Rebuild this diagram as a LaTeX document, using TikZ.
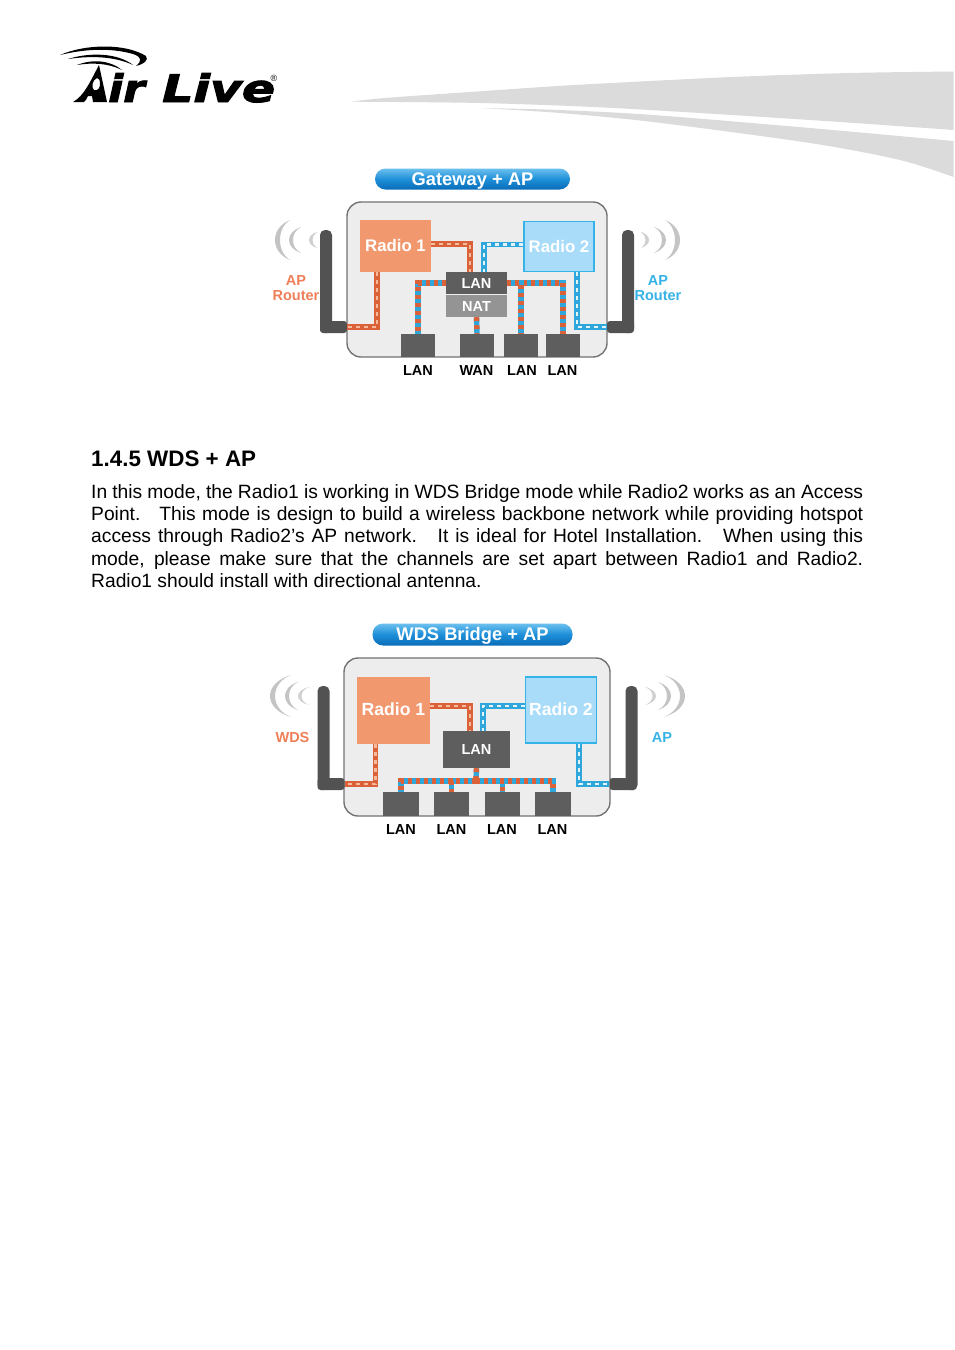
\documentclass[tikz,border=0pt]{standalone}
\usepackage{fontspec}
\setmainfont{Liberation Sans}
\newfontfamily\logofont[BoldItalicFeatures={FakeBold=2.5}]{DejaVu Sans}
\definecolor{cr}{HTML}{DB6238}
\definecolor{crt}{HTML}{F4BC9C}
\definecolor{cb}{HTML}{2FA6DC}
\definecolor{cbw}{HTML}{E4F4FB}
\definecolor{labr}{HTML}{EE7F58}
\definecolor{labb}{HTML}{35B2E6}
\definecolor{darkg}{HTML}{5E5E5E}
\definecolor{wave}{HTML}{C4C4C4}
\definecolor{pilltop}{HTML}{6CC0EE}
\definecolor{pillmid}{HTML}{1E8FD8}
\definecolor{pillbot}{HTML}{0A6CB8}
\definecolor{radA}{HTML}{F2986E}
\definecolor{radB}{HTML}{A8DCF8}
\tikzset{
  pill/.style={rounded corners=10.5pt, inner sep=0pt, top color=pilltop, bottom color=pillbot, middle color=pillmid, text=white, text height=12.5pt, text depth=0pt, font=\bfseries\fontsize{18.3pt}{19pt}\selectfont},
  chassis/.style={draw=black!55, fill=black!7, line width=1.4pt, rounded corners=14pt, inner sep=0pt},
  radioA/.style={fill=radA, inner sep=0pt, text=white, text height=11.5pt, text depth=0pt, font=\bfseries\fontsize{#1}{18pt}\selectfont},
  radioB/.style={fill=radB, draw=labb, line width=1.2pt, inner sep=0pt, text=white, text height=11.5pt, text depth=0pt, font=\bfseries\fontsize{#1}{18pt}\selectfont},
  lanbox/.style={fill=darkg, inner sep=0pt, text=white, text height=10.5pt, text depth=0pt, font=\bfseries\fontsize{14.5pt}{16pt}\selectfont},
  natbox/.style={fill=black!42, inner sep=0pt, text=white, text height=10.5pt, text depth=0pt, font=\bfseries\fontsize{14.5pt}{16pt}\selectfont},
  port/.style={fill=darkg, inner sep=0pt},
  ant/.style={fill=black!68, inner sep=0pt, rounded corners=5pt},
  foot/.style={fill=black!68, inner sep=0pt, rounded corners=3pt},
  lab/.style={font=\bfseries\fontsize{14.5pt}{15pt}\selectfont, inner sep=0pt, text height=10.5pt, text depth=0pt},
  cabR/.style={draw=cr, line width=5.4pt, postaction={draw=crt, line width=2.4pt, dash pattern=on 4pt off 4pt}},
  cabB/.style={draw=cb, line width=5.4pt, postaction={draw=cbw, line width=2.4pt, dash pattern=on 4pt off 4pt}},
  cabM/.style={draw=cb, line width=5.4pt, postaction={draw=cr, line width=5.4pt, dash pattern=on 4pt off 4pt}},
  swoosh/.style={fill=black!14, draw=none},
  logotext/.style={anchor=base west, inner sep=0pt, xscale=#1, font=\logofont\bfseries\itshape\fontsize{38pt}{40pt}\selectfont}
}
\newcommand{\wavearc}[6]{% tip, mid, cy, h, thick, colour
  \pgfmathsetmacro{\ca}{(4*#2-#1)/3}
  \pgfmathsetmacro{\cbb}{(4*(#2+#5)-#1)/3}
  \fill[#6] (#1,#3-#4) .. controls (\ca,#3-#4*0.6) and (\ca,#3+#4*0.6) .. (#1,#3+#4)
     .. controls (\cbb,#3+#4*0.6) and (\cbb,#3-#4*0.6) .. cycle;
}
\begin{document}
\begin{tikzpicture}[x=1pt,y=-1pt]
\useasboundingbox (0,0) rectangle (954,1350);
\fill[white] (0,0) rectangle (954,1350);

% header swooshes
\fill[swoosh] plot[smooth] coordinates {(350,101.7) (385,98) (470,92) (575,85) (732,77) (850,73) (953.5,71.5)}
  -- (953.5,130) -- plot[smooth] coordinates {(953.5,130) (810,120) (614,108) (480,103) (350,101.7)} -- cycle;
\fill[swoosh] plot[smooth] coordinates {(481,108) (560,110) (653,115) (810,128) (953.5,141)}
  -- (953.5,177) -- plot[smooth] coordinates {(953.5,177) (900,160) (810,143) (653,122) (560,113) (481,108)} -- cycle;

% logo
\fill[black] (60,55) .. controls (85,44) and (125,43) .. (146,56) .. controls (149,60) and (144,64) .. (136,66)
   .. controls (142,61) and (142,57) .. (133,54) .. controls (110,47.5) and (85,49) .. cycle;
\fill[black] (68,59) .. controls (90,52) and (118,53) .. (133,65) .. controls (115,56.5) and (92,55.5) .. cycle;
\fill[black] (77,65) .. controls (92,59) and (110,60) .. (122,70) .. controls (108,63) and (92,62.5) .. cycle;
\fill[black, even odd rule] (99,65) -- (107,102) -- (93,102) -- (92,96) -- (88,96) .. controls (87,99) and (85,101) .. (84,102) -- (73,102)
   .. controls (84,96) and (90,82) .. (99,65) -- cycle
   (97,78) .. controls (92,80) and (91,88) .. (94,90) .. controls (98,91) and (100,88) .. (100,84) .. controls (100,80) and (99,78) .. (97,78) -- cycle;
\node[logotext=1.15] (logoA) at (108,102) {ir};
\node[logotext=1.285] (logoB) at (162,102) {Live};
\node[inner sep=0pt, font=\fontsize{9pt}{10pt}\selectfont] (logoR) at (274,78) {®};

%% ---------- Gateway + AP
\node[pill, minimum width=195pt, minimum height=21pt] (t1) at (472.5,179) {Gateway + AP};
\node[chassis, minimum width=260pt, minimum height=155pt] (b1) at (477,279.5) {};
\node[ant, minimum width=12pt, minimum height=103pt] (al1) at (326,281.5) {};
\node[foot, minimum width=27pt, minimum height=12pt] (fl1) at (333.5,327) {};
\node[ant, minimum width=12pt, minimum height=103pt] (ar1) at (628,281.5) {};
\node[foot, minimum width=27pt, minimum height=12pt] (fr1) at (620.5,327) {};
\node[radioA=16.8pt, minimum width=71pt, minimum height=52pt] (r11) at (395.5,246) {Radio 1};
\node[radioB=16.8pt, minimum width=70pt, minimum height=50pt] (r21) at (559,246.5) {Radio 2};
\node[port, minimum width=34pt, minimum height=23pt] (p11) at (418,345.5) {};
\node[port, minimum width=34pt, minimum height=23pt] (p12) at (477,345.5) {};
\node[port, minimum width=34pt, minimum height=23pt] (p13) at (521,345.5) {};
\node[port, minimum width=34pt, minimum height=23pt] (p14) at (563,345.5) {};
\node[lanbox, minimum width=61pt, minimum height=22pt] (l1) at (476.5,283) {LAN};
\node[natbox, minimum width=61pt, minimum height=22pt] (n1) at (476.5,306) {NAT};
% cables
\path[cabR] ([yshift=2pt]r11.east) -| ([xshift=-6.5pt]l1.north);
\path[cabB] ([yshift=2pt]r21.west) -| ([xshift=7.5pt]l1.north);
\path[cabR] ([xshift=-18.5pt]r11.south) |- (fl1.east);
\path[cabB] ([xshift=18pt]r21.south) |- (fr1.west);
\path[cabM] (l1.west) -| (p11.north);
\path[cabM] (l1.east) -| (p14.north);
\path[cabM] (l1.east) -| (p13.north);
\path[cabM] (n1.south) -- (p12.north);
% waves
\wavearc{290}{275}{240}{20}{5}{wave}
\wavearc{301}{289}{240}{13}{4}{wave}
\wavearc{317}{309}{240}{8}{3.5}{wave!80}
\wavearc{665}{680}{240}{20}{-5}{wave}
\wavearc{654}{666}{240}{13}{-4}{wave}
\wavearc{641}{649}{240}{8}{-3.5}{wave!80}
% labels
\node[lab, text=labr] (la1) at (296,280) {AP};
\node[lab, text=labr] (la2) at (296,295) {Router};
\node[lab, text=labb] (la3) at (658,280) {AP};
\node[lab, text=labb] (la4) at (658,295) {Router};
\node[lab] (la5) at (418,370) {LAN};
\node[lab] (la6) at (476.5,370) {WAN};
\node[lab] (la7) at (522,370) {LAN};
\node[lab] (la8) at (562.5,370) {LAN};

%% ---------- text
\node[anchor=base west, inner sep=0pt, font=\bfseries\fontsize{22.4pt}{24pt}\selectfont] (h) at (91,466) {1.4.5 WDS + AP};
\node[anchor=north west, inner sep=0pt, text width=772pt, align=justify, font=\fontsize{19.24pt}{22.35pt}\selectfont] (para) at (91,484)
{In this mode, the Radio1 is working in WDS Bridge mode while Radio2 works as an Access\linebreak
Point.\ \ \ This mode is design to build a wireless backbone network while providing hotspot\linebreak
access through Radio2’s AP network.\ \ \ It is ideal for Hotel Installation.\ \ \ When using this\linebreak
mode, please make sure that the channels are set apart between Radio1 and Radio2.\linebreak
Radio1 should install with directional antenna.};

%% ---------- WDS Bridge + AP
\node[pill, minimum width=200pt, minimum height=22pt] (t2) at (472.5,634.5) {WDS Bridge + AP};
\node[chassis, minimum width=266pt, minimum height=158pt] (b2) at (477,737) {};
\node[ant, minimum width=12pt, minimum height=104pt] (al2) at (323.5,738) {};
\node[foot, minimum width=27pt, minimum height=12pt] (fl2) at (331,784) {};
\node[ant, minimum width=12pt, minimum height=104pt] (ar2) at (631.5,738) {};
\node[foot, minimum width=27pt, minimum height=12pt] (fr2) at (623,784) {};
\node[radioA=17.6pt, minimum width=73pt, minimum height=67pt] (r12) at (393.5,710) {Radio 1};
\node[radioB=17.6pt, minimum width=71pt, minimum height=66pt] (r22) at (561,710) {Radio 2};
\node[lanbox, minimum width=67pt, minimum height=37pt] (l2) at (476.5,749.5) {LAN};
\node[port, minimum width=35.5pt, minimum height=24pt] (p21) at (401,804) {};
\node[port, minimum width=35.5pt, minimum height=24pt] (p22) at (451.5,804) {};
\node[port, minimum width=35.5pt, minimum height=24pt] (p23) at (502.5,804) {};
\node[port, minimum width=35.5pt, minimum height=24pt] (p24) at (553,804) {};
\coordinate (bus) at (476,781);
\path[cabR] ([yshift=4pt]r12.east) -| ([xshift=-6.5pt]l2.north);
\path[cabB] ([yshift=4pt]r22.west) -| ([xshift=6.5pt]l2.north);
\path[cabR] ([xshift=-18pt]r12.south) |- (fl2.east);
\path[cabB] ([xshift=18pt]r22.south) |- (fr2.west);
\path[cabM] (l2.south) -- (bus);
\path[cabM] (bus) -| (p21.north);
\path[cabM] (bus) -| (p22.north);
\path[cabM] (bus) -| (p23.north);
\path[cabM] (bus) -| (p24.north);
\wavearc{291}{270}{696}{21}{5}{wave}
\wavearc{298}{285}{696}{14}{4}{wave}
\wavearc{309}{298}{696}{9}{3.5}{wave!80}
\wavearc{664}{685}{696}{21}{-5}{wave}
\wavearc{658}{671}{696}{14}{-4}{wave}
\wavearc{645}{656}{696}{9}{-3.5}{wave!80}
\node[lab, text=labr] (lb1) at (292.5,737) {WDS};
\node[lab, text=labb] (lb2) at (662,737) {AP};
\node[lab] (lb3) at (401,829) {LAN};
\node[lab] (lb4) at (451.5,829) {LAN};
\node[lab] (lb5) at (502,829) {LAN};
\node[lab] (lb6) at (552.5,829) {LAN};
\end{tikzpicture}
\end{document}
